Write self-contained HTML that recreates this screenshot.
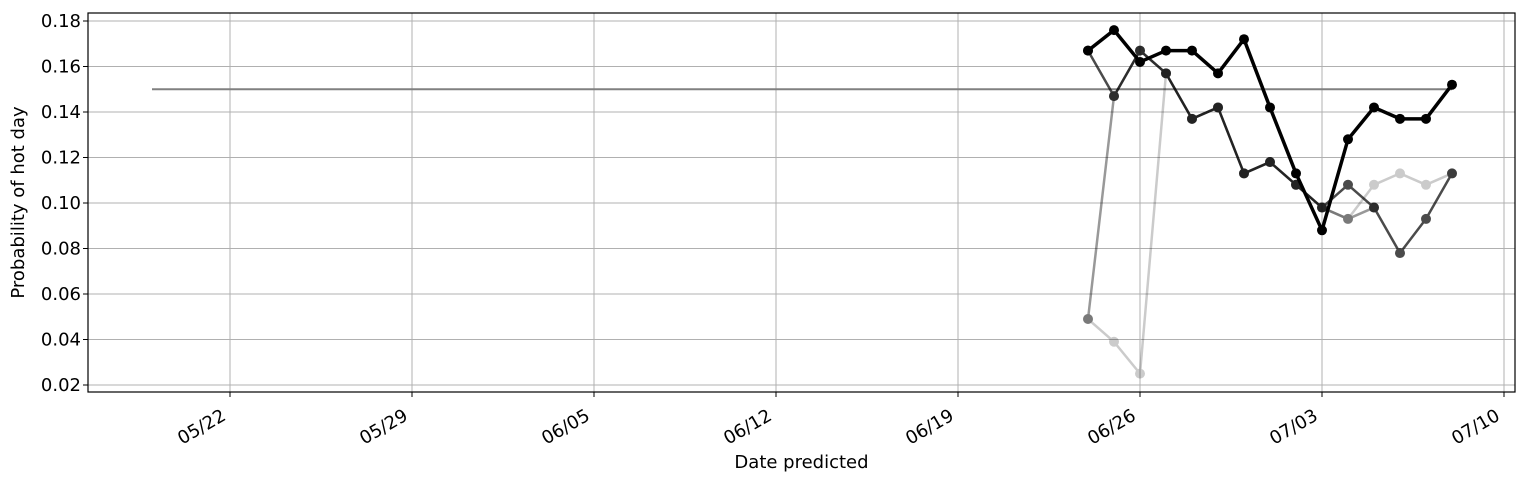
<!DOCTYPE html>
<html><head><meta charset="utf-8"><style>
body{margin:0;background:#fff;font-family:"Liberation Sans","DejaVu Sans",sans-serif}
svg text{font-family:"DejaVu Sans","Liberation Sans",sans-serif;fill:#000}
</style></head><body>
<svg id="c" width="1528" height="481" xmlns="http://www.w3.org/2000/svg"></svg>
<script>
const yTicks=[0.02,0.04,0.06,0.08,0.10,0.12,0.14,0.16,0.18];
const xTickDays=[0,7,14,21,28,35,42,49];
const xTickLabels=["05/22","05/29","06/05","06/12","06/19","06/26","07/03","07/10"];
const baselineStartDay=-3, baselineEndDay=47, baselineValue=0.15;
const lightDays=[33,34,35,36,37,38,39,40,41,42,43,44,45,46,47];
const lightVals=[0.049,0.039,0.025,0.157,0.137,0.142,0.113,0.118,0.108,0.098,0.093,0.108,0.113,0.108,0.113];
const midDays=[33,34,35,36,37,38,39,40,41,42,43,44];
const midVals=[0.049,0.147,0.167,0.157,0.137,0.142,0.113,0.118,0.108,0.098,0.093,0.098];
const darkDays=[33,34,35,36,37,38,39,40,41,42,43,44,45,46,47];
const darkVals=[0.167,0.147,0.167,0.157,0.137,0.142,0.113,0.118,0.108,0.098,0.108,0.098,0.078,0.093,0.113];
const blackDays=[33,34,35,36,37,38,39,40,41,42,43,44,45,46,47];
const blackVals=[0.167,0.176,0.162,0.167,0.167,0.157,0.172,0.142,0.113,0.088,0.128,0.142,0.137,0.137,0.152];

const L=88,R=1515,T=13,B=392;
const X=d=>230+d*26;
const Y=v=>385-(v-0.02)*2275;
const svg=document.getElementById('c');
const NS='http://www.w3.org/2000/svg';
function mk(t,a,p){const e=document.createElementNS(NS,t);for(const k in a)e.setAttribute(k,a[k]);(p||svg).appendChild(e);return e;}
yTicks.forEach((v,i)=>{
  const g=mk('line',{x1:L,x2:R,y1:Y(v),y2:Y(v),stroke:'#b0b0b0','stroke-width':1});
  
  
  mk('line',{x1:L-5,x2:L,y1:Y(v),y2:Y(v),stroke:'#000'});
  const t=mk('text',{x:L-7,y:Y(v)+6,'text-anchor':'end','font-size':18});
  t.textContent=v.toFixed(2);
  
  
});
xTickDays.forEach((d,i)=>{
  const x=X(d);
  const g=mk('line',{x1:x,x2:x,y1:T,y2:B,stroke:'#b0b0b0','stroke-width':1});
  
  
  mk('line',{x1:x,x2:x,y1:B,y2:B+5,stroke:'#000'});
  const ax=x-3, ay=B+27;
  const t=mk('text',{x:ax,y:ay,'text-anchor':'end','font-size':18,transform:`rotate(-30 ${ax} ${ay})`});
  t.textContent=xTickLabels[i];
  
  
});
const bl=mk('line',{x1:X(baselineStartDay),x2:X(baselineEndDay),y1:Y(baselineValue),y2:Y(baselineValue),stroke:'#808080','stroke-width':2});


function series(days,vals,op,w,name){
  const g=mk('g',{opacity:op});
  
  
  mk('polyline',{points:days.map((d,i)=>X(d)+','+Y(vals[i])).join(' '),fill:'none',stroke:'#000','stroke-width':w,'stroke-linejoin':'round'},g);
  days.forEach((d,i)=>{const c=mk('circle',{cx:X(d),cy:Y(vals[i]),r:5,fill:'#000'},g);
    
    });
}
series(lightDays,lightVals,0.2,2.5,'series-light');
series(midDays,midVals,0.4,2.5,'series-mid');
series(darkDays,darkVals,0.7,2.5,'series-dark');
series(blackDays,blackVals,1,3.5,'series-latest');
const fr=mk('rect',{x:L,y:T,width:R-L,height:B-T,fill:'none',stroke:'#000','stroke-width':1.2});


const xl=mk('text',{x:(L+R)/2,y:468,'text-anchor':'middle','font-size':18});
xl.textContent='Date predicted';


const yl=mk('text',{x:24,y:(T+B)/2,'text-anchor':'middle','font-size':18,transform:`rotate(-90 24 ${(T+B)/2})`});
yl.textContent='Probability of hot day';


</script>
</body></html>
